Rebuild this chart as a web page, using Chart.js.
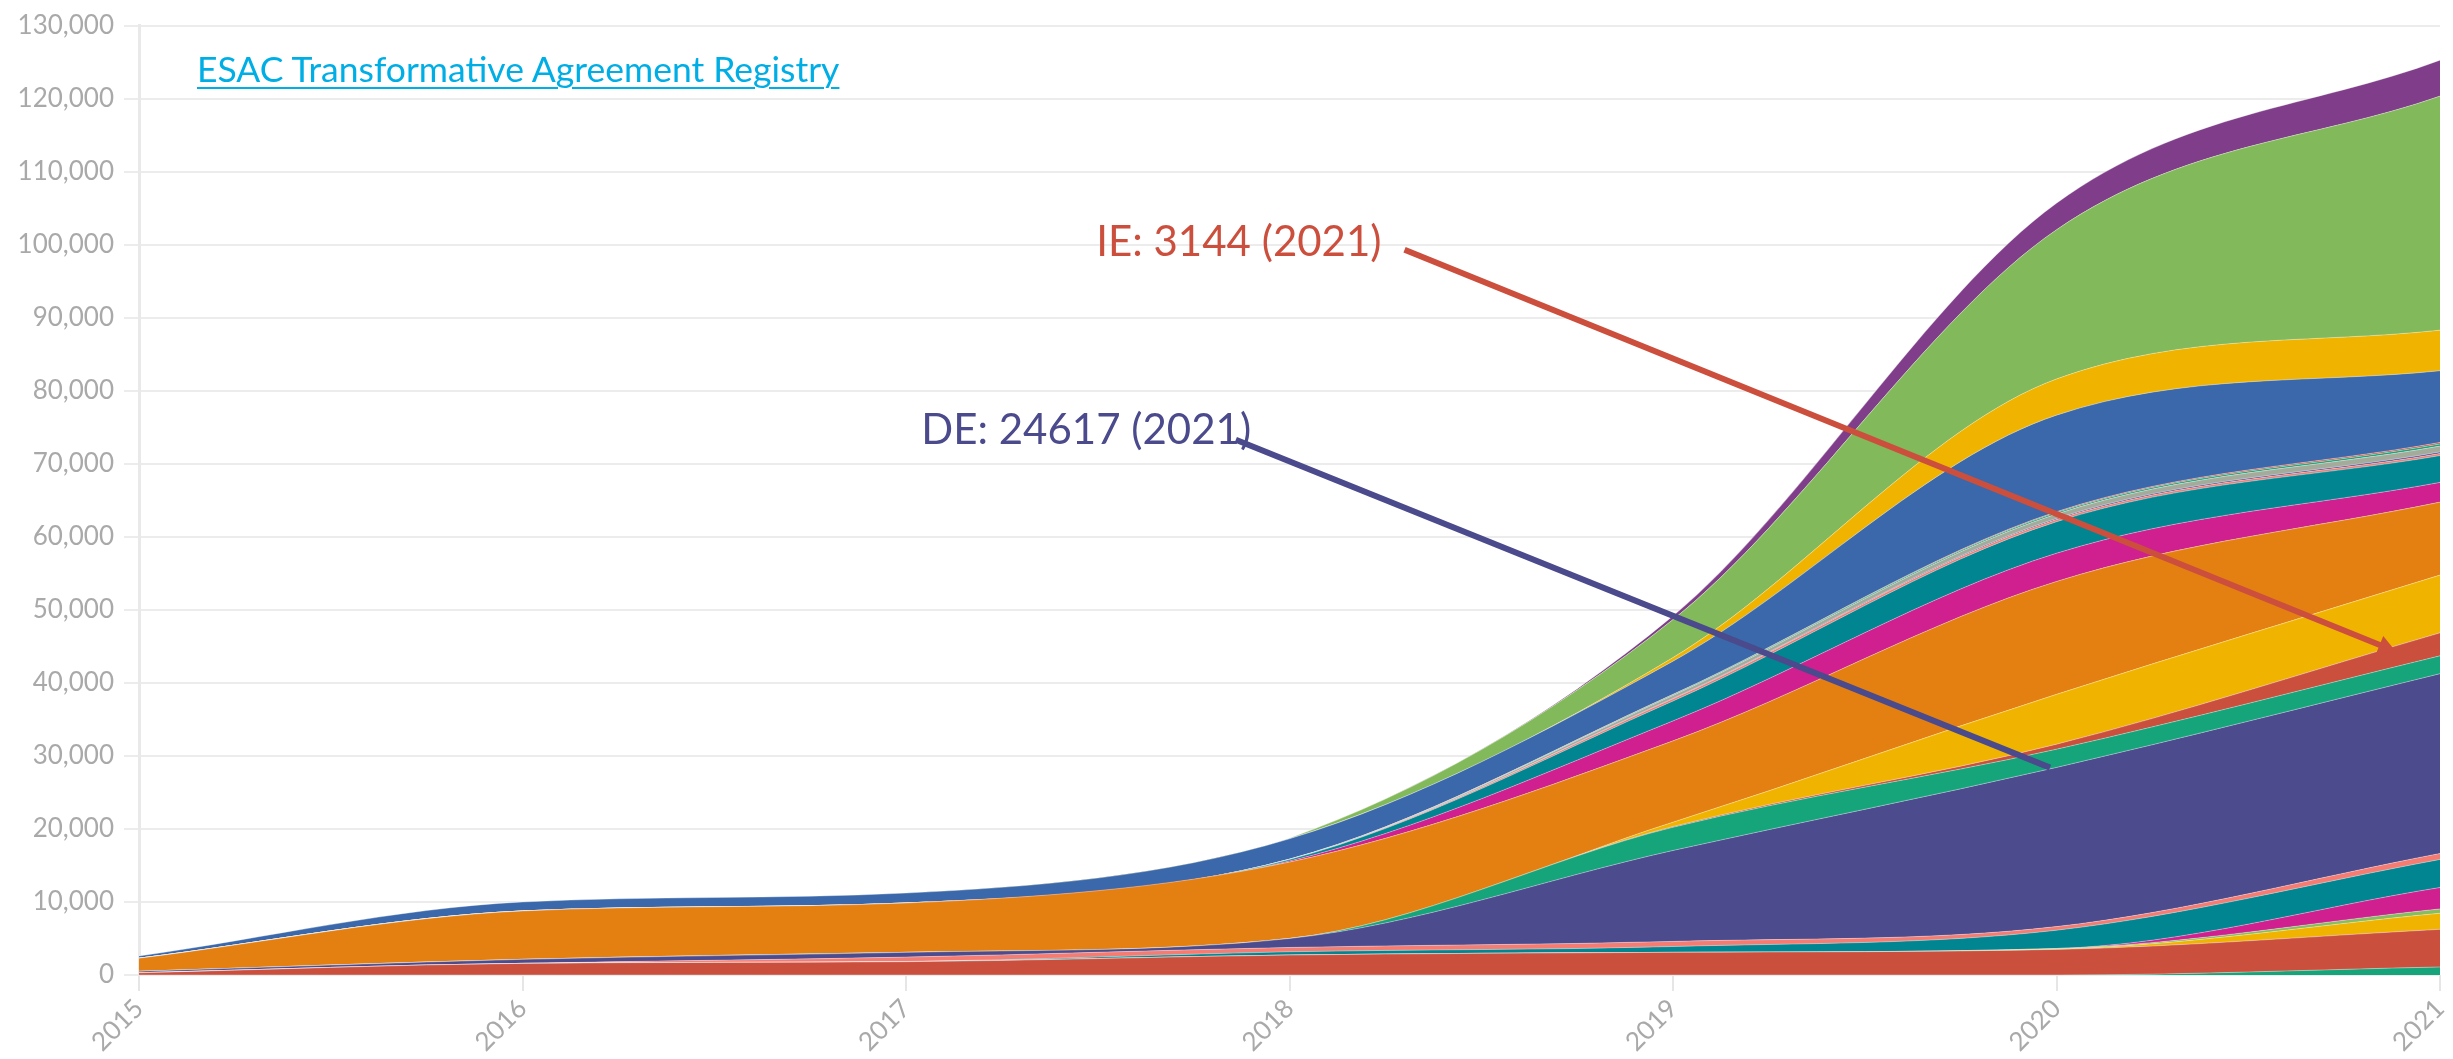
<!DOCTYPE html>
<html>
<head>
<meta charset="utf-8">
<script src="https://cdn.jsdelivr.net/npm/chart.js@4/dist/chart.umd.min.js"></script>
<style>
  html, body { margin: 0; padding: 0; background: #fff; }
  #wrap { position: relative; width: 2453px; height: 1059px; }
  #c { position: absolute; left: 0; top: 0; }
  #esac { position: absolute; left: 197px; top: 47px; font-family: Lato, sans-serif; font-size: 35.5px;
          color: #00aee6; text-decoration: underline; text-underline-offset: 5px; text-decoration-thickness: 2px; white-space: nowrap; }
</style>
</head>
<body>
<div id="wrap">
  <canvas id="c" width="2453" height="1059"></canvas>
  <a id="esac" href="#">ESAC Transformative Agreement Registry</a>
</div>
<script>
// ---- data ----
const years = ['2015', '2016', '2017', '2018', '2019', '2020', '2021'];

const greenLow   = [0, 0, 0, 0, 0, 0, 1100];
const redLow     = [300, 1590, 1820, 2730, 3100, 3500, 5150];
const yellowLow  = [0, 0, 0, 0, 0, 50, 2210];
const limeLow    = [0, 0, 0, 0, 0, 80, 590];
const magentaLow = [0, 0, 0, 0, 0, 0, 2930];
const tealLow    = [0, 0, 30, 450, 800, 2500, 3840];
const salmonLow  = [0, 0, 600, 590, 700, 500, 820];
const DE         = [200, 550, 650, 1230, 12450, 21790, 24617];
const greenMid   = [0, 0, 0, 0, 3180, 2500, 2450];
const IE         = [0, 0, 0, 0, 100, 680, 3144];
const yellowMid  = [0, 0, 0, 0, 600, 6830, 7910];
const orange     = [1800, 6630, 6760, 10460, 11130, 15460, 9990];
const magentaMid = [0, 0, 0, 150, 2730, 3860, 2700];
const tealMid    = [0, 0, 0, 200, 2730, 4320, 3670];
const salmonThin = [0, 0, 0, 30, 300, 300, 300];
const navyThin   = [0, 0, 0, 0, 60, 150, 200];
const grayThin   = [0, 0, 0, 20, 400, 600, 800];
const greenThin  = [0, 0, 0, 0, 100, 200, 300];
const redThin    = [0, 0, 0, 0, 50, 120, 200];
const blue       = [300, 1230, 1360, 2790, 4540, 13220, 9820];
const yellowTop  = [0, 0, 0, 0, 500, 4960, 5560];
const greenTop   = [0, 0, 0, 80, 5200, 20430, 32050];
const purpleTop  = [0, 0, 0, 0, 500, 3630, 4920];

const yTicksMax = 130000;
const yTickStep = 10000;

const linkText = 'ESAC Transformative Agreement Registry';
const notes = [
  { text: 'IE: 3144 (2021)',  color: '#cc4f3d', textYear: 2018.24, textVal: 100300,
    fromYear: 2018.30, fromVal: 99300, toYear: 2020.885, toVal: 44300, head: true },
  { text: 'DE: 24617 (2021)', color: '#4a4a8c', textYear: 2017.90, textVal: 74600,
    fromYear: 2017.86, fromVal: 73300, toYear: 2019.983, toVal: 28400, head: false }
];

// ---- series order (bottom to top) and colours ----
const series = [
  ['greenLow', greenLow, '#16a57a'],
  ['redLow', redLow, '#cb4f3d'],
  ['yellowLow', yellowLow, '#f0b400'],
  ['limeLow', limeLow, '#85bd5f'],
  ['magentaLow', magentaLow, '#d01f8f'],
  ['tealLow', tealLow, '#008591'],
  ['salmonLow', salmonLow, '#f47c72'],
  ['DE', DE, '#4b4b8e'],
  ['greenMid', greenMid, '#16a57a'],
  ['IE', IE, '#cb4f3d'],
  ['yellowMid', yellowMid, '#f0b400'],
  ['orange', orange, '#e48011'],
  ['magentaMid', magentaMid, '#d01f8f'],
  ['tealMid', tealMid, '#008591'],
  ['salmonThin', salmonThin, '#f47c72'],
  ['navyThin', navyThin, '#4b4b8e'],
  ['grayThin', grayThin, '#a3ab9b'],
  ['greenThin', greenThin, '#16a57a'],
  ['redThin', redThin, '#cb4f3d'],
  ['blue', blue, '#3a68ab'],
  ['yellowTop', yellowTop, '#f0b400'],
  ['greenTop', greenTop, '#82b95a'],
  ['purpleTop', purpleTop, '#7f3d8a']
];

const FONT = 'Lato, "Open Sans", sans-serif';

const datasets = series.map(([label, data, color], i) => ({
  label, data,
  backgroundColor: color,
  borderColor: 'rgba(255,255,255,0.35)',
  borderWidth: 1,
  pointRadius: 0,
  pointHoverRadius: 0,
  cubicInterpolationMode: 'monotone',
  fill: i === 0 ? 'origin' : '-1'
}));

const notePlugin = {
  id: 'notes',
  afterDatasetsDraw(chart) {
    const { ctx, scales: { x, y } } = chart;
    const px = yr => x.getPixelForValue(yr - Number(years[0]));
    ctx.save();
    notes.forEach(n => {
      const x0 = px(n.fromYear), y0 = y.getPixelForValue(n.fromVal);
      const x1 = px(n.toYear), y1 = y.getPixelForValue(n.toVal);
      ctx.strokeStyle = n.color;
      ctx.fillStyle = n.color;
      ctx.lineWidth = 6;
      ctx.lineCap = 'butt';
      const ang = Math.atan2(y1 - y0, x1 - x0);
      const headLen = n.head ? 20 : 0;
      ctx.beginPath();
      ctx.moveTo(x0, y0);
      ctx.lineTo(x1 - Math.cos(ang) * headLen * 0.6, y1 - Math.sin(ang) * headLen * 0.6);
      ctx.stroke();
      if (n.head) {
        ctx.beginPath();
        ctx.moveTo(x1, y1);
        ctx.lineTo(x1 - headLen * Math.cos(ang - 0.5), y1 - headLen * Math.sin(ang - 0.5));
        ctx.lineTo(x1 - headLen * Math.cos(ang + 0.5), y1 - headLen * Math.sin(ang + 0.5));
        ctx.closePath();
        ctx.fill();
      }
      ctx.font = '42px ' + FONT;
      ctx.textAlign = 'right';
      ctx.textBaseline = 'middle';
      ctx.fillText(n.text, px(n.textYear), y.getPixelForValue(n.textVal));
    });
    ctx.restore();
  }
};

new Chart(document.getElementById('c'), {
  type: 'line',
  data: { labels: years, datasets },
  options: {
    responsive: false,
    devicePixelRatio: 1,
    animation: false,
    layout: { padding: { top: 22, right: 13, left: 0, bottom: 0 } },
    plugins: { legend: { display: false }, tooltip: { enabled: false }, title: { display: false } },
    scales: {
      x: {
        type: 'category',
        offset: false,
        grid: { drawOnChartArea: false, drawTicks: true, tickLength: 16, color: '#e6e6e6', lineWidth: 2 },
        border: { display: false },
        ticks: { font: { family: FONT, size: 26 }, color: '#a9a9a9', minRotation: 45, maxRotation: 45, padding: 2, autoSkip: false },
        afterFit(s) { s.height = 84; s.paddingRight = 0; s.paddingLeft = 0; }
      },
      y: {
        stacked: true,
        min: 0,
        max: yTicksMax,
        grid: { color: '#ececec', lineWidth: 2, tickLength: 15 },
        border: { display: true, color: '#e9e9e9', width: 3 },
        ticks: {
          stepSize: yTickStep,
          font: { family: FONT, size: 26 },
          color: '#a9a9a9',
          padding: 10,
          callback: v => Number(v).toLocaleString('en-US')
        },
        afterFit(s) { s.width = 139; }
      }
    }
  },
  plugins: [notePlugin]
});
</script>
</body>
</html>
